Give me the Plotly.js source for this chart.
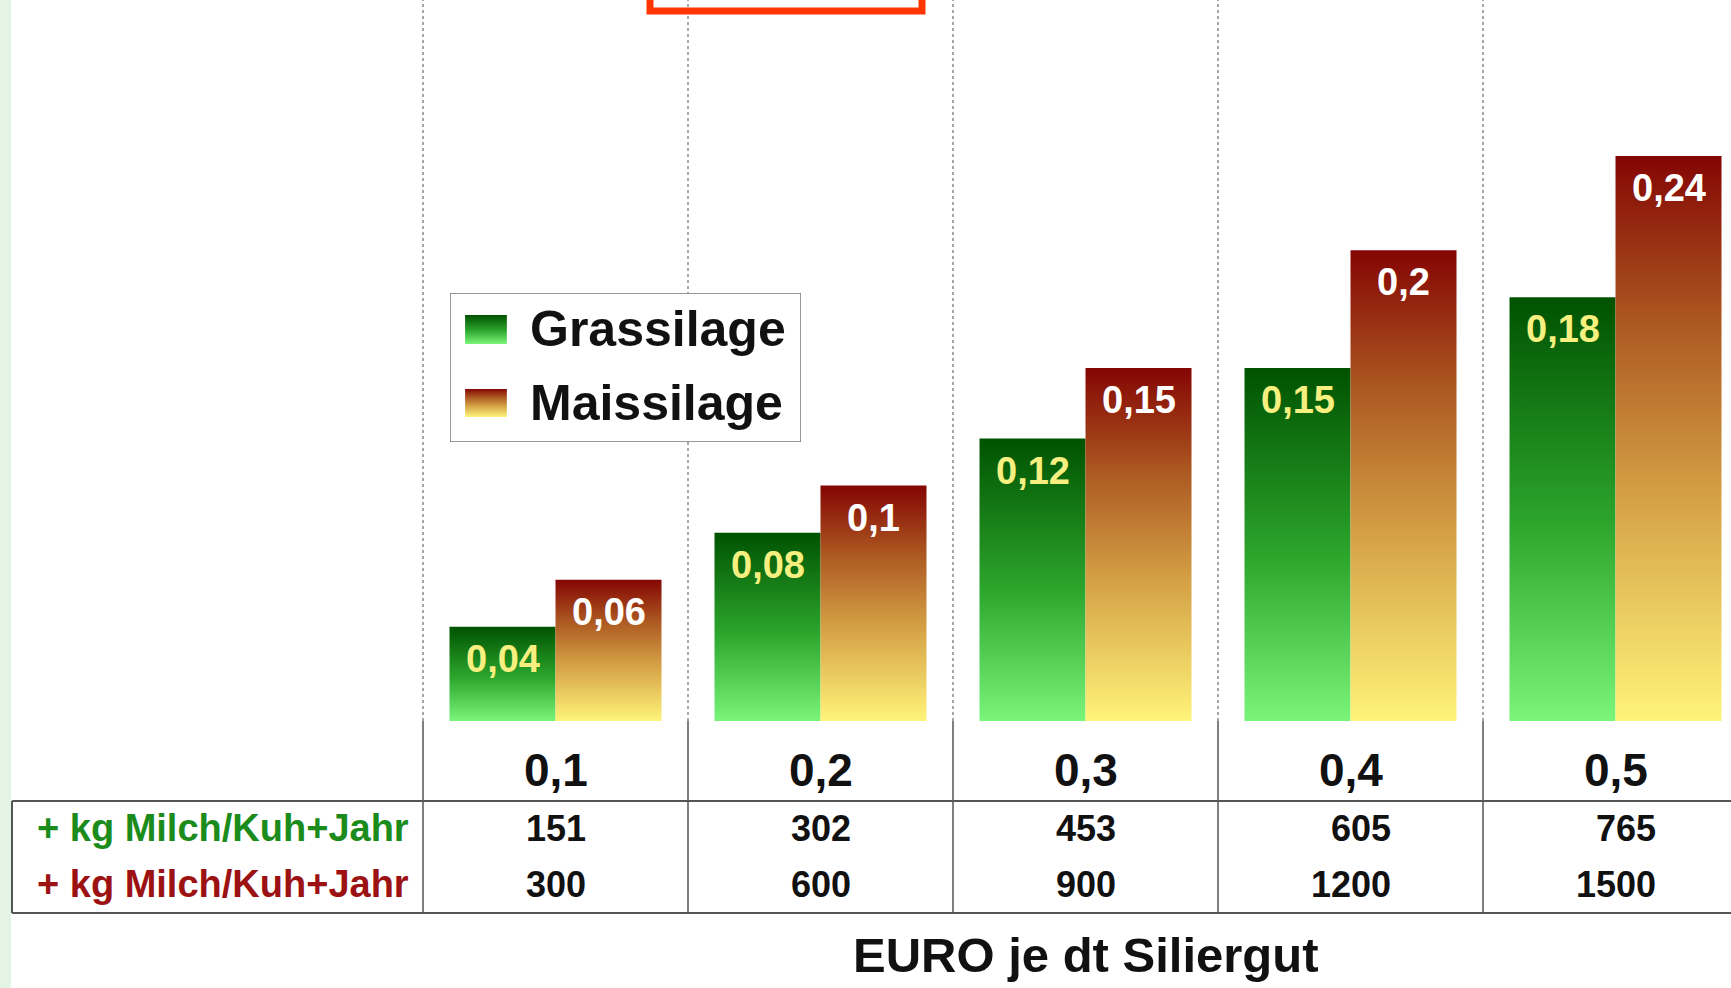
<!DOCTYPE html>
<html>
<head>
<meta charset="utf-8">
<script src="https://cdn.plot.ly/plotly-3.0.1.min.js"></script>
<style>
  html, body { margin: 0; padding: 0; background: #ffffff; }
  #chart { width: 1731px; height: 988px; }
</style>
</head>
<body>
<div id="chart"></div>
<script>
// Price levels of the silage (EURO per dt) and their axis labels
const priceLevels = [0.1, 0.2, 0.3, 0.4, 0.5];
const categoryLabels = ['0,1', '0,2', '0,3', '0,4', '0,5'];

// Cost per kg of milk for each silage type
const grassCost = [0.04, 0.08, 0.12, 0.15, 0.18];
const maizeCost = [0.06, 0.10, 0.15, 0.20, 0.24];

// Extra milk per cow and year (table rows)
const milkGrass = [151, 302, 453, 605, 765];
const milkMaize = [300, 600, 900, 1200, 1500];

const seriesNames = ['Grassilage', 'Maissilage'];
const rowLabel = '+ kg Milch/Kuh+Jahr';
const xTitle = 'EURO je dt Siliergut';

// ---- styling -------------------------------------------------------------
const W = 1731, H = 988;
const SANS = "'Liberation Sans', Arial, sans-serif";
const greenScale = [[0, '#7af57a'], [0.45, '#2ea82e'], [1, '#005200']];
const redScale = [[0, '#fff47a'], [0.4, '#d4a045'], [0.7, '#ad5a22'], [1, '#840503']];
const barWidth = 0.4;
const pY = px => 1 - px / H;       // pixel row -> paper y
const pX = px => px / W;           // pixel column -> paper x
const fmt = v => String(v).replace('.', ',');

const traces = [];
const annotations = [];

function addBar(xLeft, value, scale, labelColor) {
  const x0 = xLeft, x1 = xLeft + barWidth;
  traces.push({
    type: 'scatter', mode: 'lines',
    x: [x0, x1, x1, x0, x0],
    y: [0, 0, value, value, 0],
    fill: 'toself',
    line: { width: 0, color: 'rgba(0,0,0,0)' },
    fillgradient: { type: 'vertical', colorscale: scale, start: 0, stop: value },
    hoverinfo: 'skip', showlegend: false
  });
  annotations.push({
    xref: 'x', yref: 'y', x: (x0 + x1) / 2, y: value,
    yanchor: 'middle', yshift: -32, showarrow: false,
    text: fmt(value),
    font: { family: SANS, size: 38, color: labelColor, weight: 'bold' }
  });
}

priceLevels.forEach((p, i) => {
  addBar(i - barWidth, grassCost[i], greenScale, '#f7f080');
  addBar(i, maizeCost[i], redScale, '#ffffff');

  // category label under the bars
  annotations.push({
    xref: 'x', yref: 'paper', x: i, y: pY(770), yanchor: 'middle',
    showarrow: false, text: categoryLabels[i],
    font: { family: SANS, size: 46, color: '#111111', weight: 'bold' }
  });
  // table values
  annotations.push({
    xref: 'x', yref: 'paper', x: i, y: pY(828), yanchor: 'middle',
    xshift: i >= 3 ? 10 : 0,
    showarrow: false, text: String(milkGrass[i]),
    font: { family: SANS, size: 36, color: '#111111', weight: 'bold' }
  });
  annotations.push({
    xref: 'x', yref: 'paper', x: i, y: pY(884), yanchor: 'middle',
    showarrow: false, text: String(milkMaize[i]),
    font: { family: SANS, size: 36, color: '#111111', weight: 'bold' }
  });
});

// table row labels
annotations.push({
  xref: 'paper', yref: 'paper', x: pX(411), y: pY(828), xanchor: 'right', yanchor: 'middle',
  showarrow: false, text: rowLabel,
  font: { family: SANS, size: 38, color: '#1b8c1b', weight: 'bold' }
});
annotations.push({
  xref: 'paper', yref: 'paper', x: pX(411), y: pY(884), xanchor: 'right', yanchor: 'middle',
  showarrow: false, text: rowLabel,
  font: { family: SANS, size: 38, color: '#9c1212', weight: 'bold' }
});

// axis title
annotations.push({
  xref: 'x', yref: 'paper', x: 2, y: pY(955), yanchor: 'middle',
  showarrow: false, text: xTitle,
  font: { family: SANS, size: 49, color: '#111111', weight: 'bold' }
});

// ---- legend (drawn on its own small axis pair) ---------------------------
const legendSwatches = [
  { name: seriesNames[0], scale: greenScale, y0: 0.658, y1: 0.852, ty: 0.758 },
  { name: seriesNames[1], scale: redScale, y0: 0.168, y1: 0.356, ty: 0.262 }
];
legendSwatches.forEach(s => {
  traces.push({
    type: 'scatter', mode: 'lines', xaxis: 'x2', yaxis: 'y2',
    x: [0.043, 0.162, 0.162, 0.043, 0.043],
    y: [s.y0, s.y0, s.y1, s.y1, s.y0],
    fill: 'toself', line: { width: 0, color: 'rgba(0,0,0,0)' },
    fillgradient: { type: 'vertical', colorscale: s.scale, start: s.y0, stop: s.y1 },
    hoverinfo: 'skip', showlegend: false
  });
  annotations.push({
    xref: 'x2', yref: 'y2', x: 0.222, y: s.ty, xanchor: 'left', yanchor: 'middle',
    showarrow: false, text: s.name,
    font: { family: SANS, size: 50, color: '#111111', weight: 'bold' }
  });
});

// ---- grid, table lines, frame --------------------------------------------
const shapes = [];
// light strip at the left edge
shapes.push({ type: 'rect', xref: 'paper', yref: 'paper', x0: 0, x1: pX(11), y0: 0, y1: 1,
  fillcolor: '#e4f4e4', line: { width: 0 }, layer: 'below' });

priceLevels.forEach((p, i) => {
  const xb = i - 0.5;
  shapes.push({ type: 'line', xref: 'x', yref: 'paper', x0: xb, x1: xb, y0: pY(721), y1: 1,
    line: { color: '#8a8a8a', width: 1.5, dash: 'dot' }, layer: 'below' });
  shapes.push({ type: 'line', xref: 'x', yref: 'paper', x0: xb, x1: xb, y0: pY(913), y1: pY(721),
    line: { color: '#555555', width: 1.5 }, layer: 'below' });
});
// table frame
shapes.push({ type: 'line', xref: 'paper', yref: 'paper', x0: pX(12), x1: 1, y0: pY(801), y1: pY(801),
  line: { color: '#555555', width: 2 } });
shapes.push({ type: 'line', xref: 'paper', yref: 'paper', x0: pX(12), x1: 1, y0: pY(913), y1: pY(913),
  line: { color: '#555555', width: 2 } });
shapes.push({ type: 'line', xref: 'paper', yref: 'paper', x0: pX(12), x1: pX(12), y0: pY(913), y1: pY(801),
  line: { color: '#555555', width: 2 } });
// legend box
shapes.push({ type: 'rect', xref: 'x2', yref: 'y2', x0: 0, x1: 1, y0: 0, y1: 1,
  fillcolor: '#ffffff', line: { color: '#777777', width: 1.5 }, layer: 'below' });
// highlighted frame at the top edge
shapes.push({ type: 'rect', xref: 'paper', yref: 'paper', x0: pX(650), x1: pX(922), y0: pY(11), y1: 1.05,
  fillcolor: 'rgba(0,0,0,0)', line: { color: '#ff3500', width: 7 } });

const layout = {
  width: W, height: H,
  margin: { l: 0, r: 0, t: 0, b: 0, pad: 0 },
  paper_bgcolor: '#ffffff', plot_bgcolor: '#ffffff',
  showlegend: false,
  xaxis: { range: [-2.0962, 4.4358], visible: false, fixedrange: true },
  yaxis: { range: [-0.11342, 0.30629], visible: false, fixedrange: true },
  xaxis2: { domain: [pX(450), pX(801)], range: [0, 1], anchor: 'y2', visible: false, fixedrange: true },
  yaxis2: { domain: [pY(442), pY(293)], range: [0, 1], anchor: 'x2', visible: false, fixedrange: true },
  shapes: shapes,
  annotations: annotations
};

Plotly.newPlot('chart', traces, layout, { staticPlot: true, displayModeBar: false });
</script>
</body>
</html>
